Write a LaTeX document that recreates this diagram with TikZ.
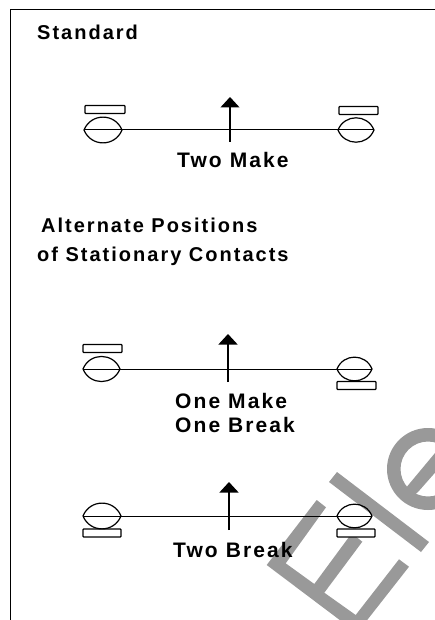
\documentclass[tikz,border=0pt]{standalone}
\usepackage{fontspec}
\setmainfont{Liberation Sans}[LetterSpace=10]
\usetikzlibrary{arrows.meta}
\definecolor{wmgray}{gray}{0.6}
\tikzset{
  lab/.style={anchor=base west, inner sep=0pt, font=\fontsize{21}{21}\selectfont\bfseries},
  headlab/.style={lab, font=\fontsize{20}{20}\selectfont\bfseries},
  lens/.style={minimum width=#1, minimum height=21pt, inner sep=0pt, outer sep=0pt},
  fixedbar/.style={draw, fill=white, line width=1.2pt, rounded corners=0.8pt, inner sep=0pt, outer sep=0pt, minimum height=8pt, minimum width=#1},
  stem/.style={line width=1.2pt, -{Triangle[width=19pt,length=10.5pt]}},
  wire/.style={line width=1pt}
}
\begin{document}
\begin{tikzpicture}[x=1pt,y=-1pt]
\useasboundingbox (0,0) rectangle (435,620);
% watermark
\begin{scope}
\clip (0,0) rectangle (435,620);
\fill[wmgray] (266.7,565) -- (316.7,500) -- (326,507.3) -- (285.7,563.3) -- (314.3,584) -- (351.7,533.3) -- (362.3,541.7) -- (324.3,592.7) -- (355.7,615) -- (399,559.3) -- (409,566.7) -- (357,633) -- cycle;
\fill[wmgray] (329,482) -- (337,472) -- (429,542) -- (421,552) -- cycle;
\fill[wmgray, even odd rule] (428,469) circle[radius=41] (428,469) circle[radius=27.5];
\fill[wmgray] (405,489) -- (412,497) -- (418,492) -- (440,467) -- (440,447) -- (435,453) -- cycle;
\end{scope}
% frame
\coordinate (ftl) at (10.5,9.5);
\coordinate (ftr) at (435,9.5);
\coordinate (fbl) at (10.5,620);
\draw[line width=1pt] (fbl) -- (ftl) -- (ftr);
% titles
\node[headlab] (tstd) at (37,40) {Standard};
\node[headlab] (talt) at (41,233) {Alternate Positions};
\node[headlab] (tpos) at (37,261) {of Stationary Contacts};
\node[lab] (ttm) at (177,168) {Two Make};
\node[lab] (tmk) at (175,408) {One Make};
\node[lab] (tbk) at (175,432) {One Break};
\node[lab] (ttb) at (173,557) {Two Break};
% top row
\node[lens=38pt] (la) at (103,130){};
\node[lens=36pt] (ra) at (356,130){};
\node[fixedbar=40pt] (ba) at (105,109.5){};
\node[fixedbar=39pt] (ca) at (358.5,110.5){};
\coordinate (sa) at (230,142);
\coordinate (ta) at (230,97);
\draw[wire] (la.west) -- (ra.east);
\draw[stem] (sa) -- (ta);
% middle row
\node[lens=37pt] (lb) at (101.5,369){};
\node[lens=35pt] (rb) at (354.5,369){};
\node[fixedbar=39pt] (bb) at (102.5,348.5){};
\node[fixedbar=39pt] (cb) at (356.5,385.5){};
\coordinate (sb) at (228,382);
\coordinate (tb) at (228,334);
\draw[wire] (lb.west) -- (rb.east);
\draw[stem] (sb) -- (tb);
% bottom row
\node[lens=38pt] (lc) at (102,516){};
\node[lens=35pt] (rc) at (354.5,516){};
\node[fixedbar=38pt] (bc) at (102,533){};
\node[fixedbar=38pt] (cc) at (356,533){};
\coordinate (sc) at (229,530);
\coordinate (tc) at (229,482);
\draw[wire] (lc.west) -- (rc.east);
\draw[stem] (sc) -- (tc);
% contact outlines
\foreach \n in {la,ra,lb,rb,lc,rc}
  \draw[line width=1.2pt] (\n.west) to[bend left=68,looseness=1.25] (\n.east) to[bend left=68,looseness=1.25] (\n.west);
\end{tikzpicture}
\end{document}
